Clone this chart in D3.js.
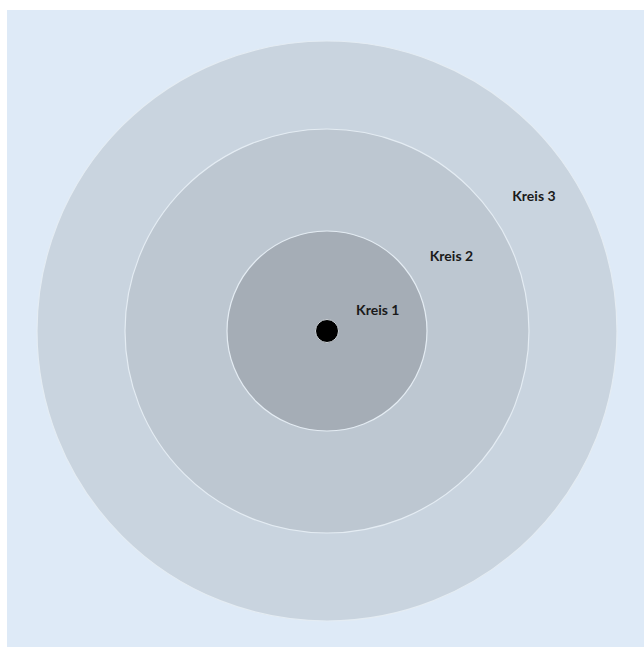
<!DOCTYPE html>
<html>
<head>
<meta charset="utf-8">
<script src="https://cdn.jsdelivr.net/npm/d3@7"></script>
<style>
    body { margin: 0; background: #ffffff; }
    svg { display: block; }
</style>
</head>
<body>
<div id="chart"></div>
<script>
// circle data
const kreisLabels = ['Kreis 1', 'Kreis 2', 'Kreis 3'];
const kreisRadius = [100, 202, 290];
const kreisColors = ['#a5adb6', '#bdc7d1', '#c9d4df'];

const width = 644, height = 647;
const cx = 327, cy = 331;

const svg = d3.select('#chart').append('svg')
    .attr('width', width)
    .attr('height', height);

// light blue panel
svg.append('rect')
    .attr('x', 7)
    .attr('y', 10)
    .attr('width', width - 7)
    .attr('height', height - 10)
    .attr('fill', '#deeaf7');

// radius scale
let r = d3.scaleLinear()
    .domain([0, d3.max(kreisRadius)])
    .range([0, 290]);

let g = svg.append('g')
    .attr('transform', `translate(${cx}, ${cy})`);

// biggest circle first so the small ones sit on top
let rings = kreisLabels.map((d, i) => ({label: d, radius: kreisRadius[i], inner: i ? kreisRadius[i - 1] : 0, color: kreisColors[i]}));

g.selectAll('circle.ring')
    .data(rings.slice().reverse())
    .enter().append('circle')
    .attr('class', 'ring')
    .attr('r', d => r(d.radius))
    .attr('fill', d => d.color)
    .attr('stroke', '#e4ecf3')
    .attr('stroke-width', 1.2);

// center dot
g.append('circle')
    .attr('r', 11.5)
    .attr('fill', '#000')
    .attr('stroke', '#d0d6dc')
    .attr('stroke-width', 1);

// labels along a diagonal to the upper right
let angle = -36 * Math.PI / 180;
g.selectAll('text.label')
    .data(rings)
    .enter().append('text')
    .attr('class', 'label')
    .attr('x', d => (r(d.inner) + (d.inner ? 27 : 36)) * Math.cos(angle))
    .attr('y', d => (r(d.inner) + (d.inner ? 27 : 36)) * Math.sin(angle))
    .attr('dy', '0.35em')
    .attr('font-family', 'Lato, "Open Sans", sans-serif')
    .attr('font-weight', 'bold')
    .attr('font-size', 14)
    .attr('fill', '#1a1a1a')
    .text(d => d.label);
</script>
</body>
</html>
